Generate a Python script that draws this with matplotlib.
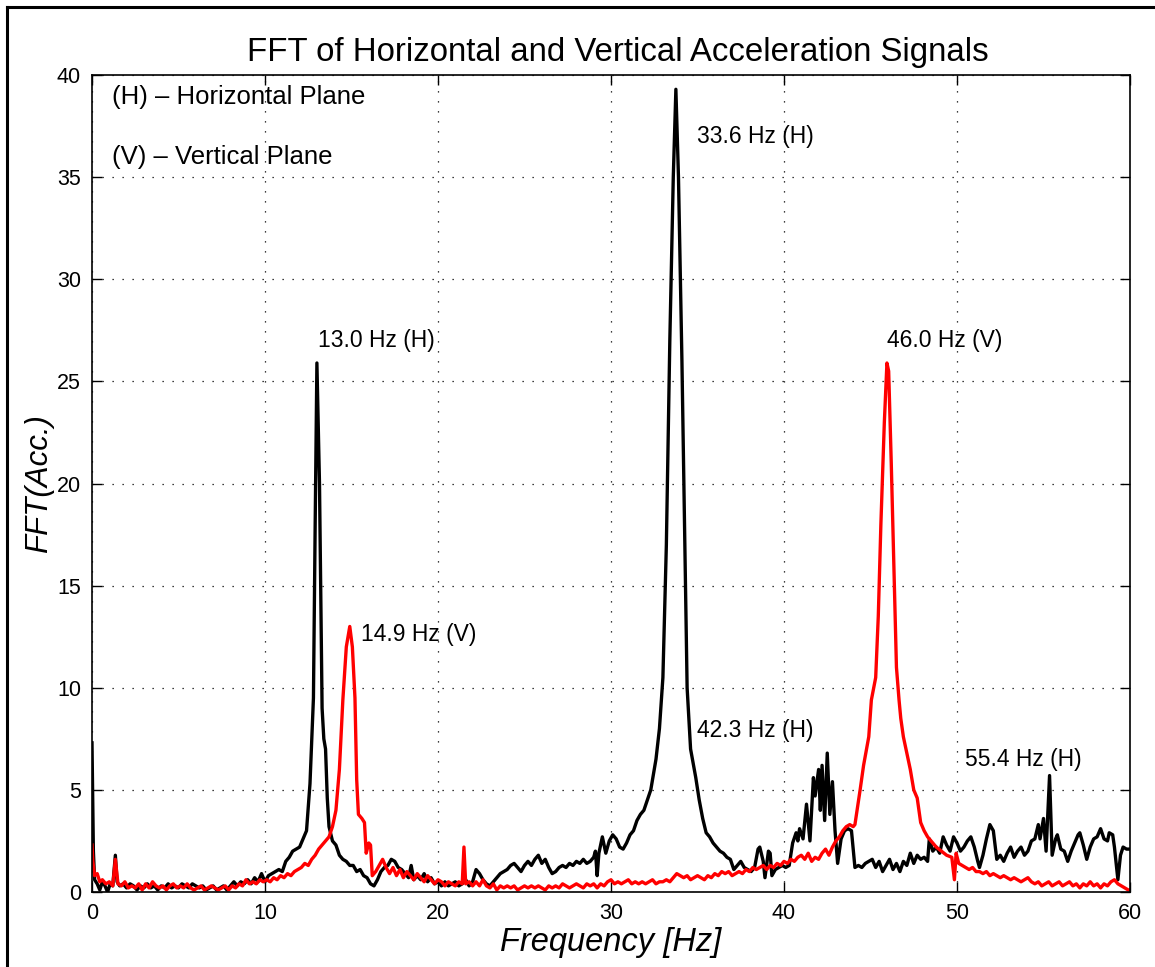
import matplotlib
matplotlib.use('Agg')
import matplotlib.pyplot as plt
from matplotlib.lines import Line2D

plt.rcParams['font.family'] = ['Liberation Sans', 'DejaVu Sans']

# horizontal plane spectrum (black)
h_freq = [0.0, 0.08, 0.15, 0.3, 0.45, 0.6, 0.75, 0.9, 1.05, 1.2, 1.35, 1.45, 1.6, 1.8,
          2.0, 2.2, 2.4, 2.6, 2.8, 3.0, 3.2, 3.4, 3.6, 3.8, 4.0, 4.2, 4.4, 4.6, 4.8,
          5.0, 5.2, 5.4, 5.6, 5.8, 6.0, 6.2, 6.4, 6.6, 6.8, 7.0, 7.2, 7.4, 7.6, 7.8,
          8.0, 8.2, 8.4, 8.6, 8.8, 9.0, 9.2, 9.4, 9.6, 9.8, 10.0, 10.2, 10.4, 10.6,
          10.8, 11.0, 11.2, 11.4, 11.6, 11.8, 12.0, 12.2, 12.4, 12.6, 12.8, 12.9,
          13.0, 13.15, 13.3, 13.4, 13.5, 13.6, 13.7, 13.9, 14.1, 14.3, 14.5, 14.7,
          14.9, 15.1, 15.3, 15.5, 15.7, 15.9, 16.1, 16.3, 16.5, 16.7, 16.9, 17.1,
          17.3, 17.5, 17.7, 17.9, 18.1, 18.3, 18.45, 18.6, 18.8, 19.0, 19.2, 19.4,
          19.6, 19.8, 20.0, 20.2, 20.4, 20.6, 20.8, 21.0, 21.2, 21.4, 21.6, 21.8,
          22.0, 22.2, 22.4, 22.6, 22.8, 23.0, 23.2, 23.4, 23.6, 23.8, 24.0, 24.2,
          24.4, 24.6, 24.8, 25.0, 25.2, 25.4, 25.6, 25.8, 26.0, 26.2, 26.4, 26.6,
          26.8, 27.0, 27.2, 27.4, 27.6, 27.8, 28.0, 28.2, 28.4, 28.6, 28.8, 29.0,
          29.1, 29.2, 29.3, 29.5, 29.7, 29.9, 30.1, 30.3, 30.5, 30.7, 30.9, 31.1,
          31.3, 31.5, 31.7, 31.9, 32.1, 32.3, 32.6, 32.8, 33.0, 33.2, 33.4, 33.6,
          33.75, 33.9, 34.1, 34.25, 34.4, 34.6, 34.9, 35.1, 35.3, 35.5, 35.7, 35.9,
          36.1, 36.3, 36.5, 36.7, 36.9, 37.1, 37.3, 37.5, 37.7, 37.9, 38.1, 38.3,
          38.5, 38.6, 38.8, 38.9, 39.1, 39.2, 39.3, 39.5, 39.7, 39.9, 40.1, 40.3,
          40.5, 40.7, 40.8, 40.9, 41.1, 41.3, 41.5, 41.7, 41.8, 42.0, 42.1, 42.2,
          42.35, 42.5, 42.65, 42.8, 42.95, 43.1, 43.3, 43.5, 43.7, 43.9, 44.1, 44.3,
          44.5, 44.7, 44.9, 45.1, 45.3, 45.5, 45.7, 45.9, 46.1, 46.3, 46.5, 46.7,
          46.9, 47.1, 47.3, 47.5, 47.7, 47.9, 48.1, 48.3, 48.4, 48.6, 48.8, 49.0,
          49.2, 49.4, 49.6, 49.8, 50.0, 50.2, 50.4, 50.6, 50.8, 51.0, 51.2, 51.3,
          51.5, 51.7, 51.9, 52.1, 52.3, 52.5, 52.7, 52.9, 53.1, 53.3, 53.5, 53.7,
          53.9, 54.1, 54.3, 54.5, 54.7, 54.8, 55.0, 55.15, 55.35, 55.5, 55.7, 55.8,
          56.0, 56.2, 56.4, 56.6, 56.8, 57.0, 57.1, 57.3, 57.5, 57.7, 57.9, 58.1,
          58.3, 58.5, 58.7, 58.8, 59.0, 59.1, 59.3, 59.45, 59.6, 59.8, 60.0]
h_amp = [7.3, 2.0, 0.6, 0.4, 0.1, 0.5, 0.3, 0.0, 0.4, 0.3, 1.8, 0.5, 0.3, 0.4,
         0.2, 0.4, 0.3, 0.1, 0.3, 0.2, 0.4, 0.2, 0.3, 0.1, 0.3, 0.2, 0.4, 0.2, 0.3,
         0.2, 0.4, 0.3, 0.2, 0.4, 0.3, 0.2, 0.3, 0.1, 0.2, 0.3, 0.1, 0.2, 0.3, 0.1,
         0.3, 0.5, 0.3, 0.5, 0.4, 0.6, 0.4, 0.7, 0.5, 0.9, 0.5, 0.8, 0.9, 1.0,
         1.1, 1.0, 1.5, 1.7, 2.0, 2.1, 2.2, 2.6, 3.0, 5.3, 9.5, 18.0,
         25.9, 20.0, 9.0, 7.5, 7.0, 4.6, 3.2, 2.5, 2.3, 1.8, 1.6, 1.5,
         1.3, 1.3, 1.0, 1.1, 0.8, 0.7, 0.4, 0.3, 0.6, 1.0, 1.2, 1.3,
         1.6, 1.5, 1.2, 1.1, 0.9, 0.7, 1.3, 0.6, 0.8, 0.6, 0.9, 0.5,
         0.7, 0.4, 0.5, 0.3, 0.5, 0.3, 0.4, 0.5, 0.3, 0.4, 0.6, 0.3,
         0.5, 1.1, 0.9, 0.6, 0.4, 0.3, 0.5, 0.7, 0.9, 1.0, 1.1, 1.3,
         1.4, 1.2, 1.0, 1.3, 1.5, 1.3, 1.6, 1.8, 1.4, 1.6, 1.2, 0.9,
         1.0, 1.2, 1.3, 1.2, 1.4, 1.3, 1.5, 1.4, 1.6, 1.4, 1.5, 1.7,
         2.0, 0.8, 1.9, 2.7, 1.9, 2.5, 2.8, 2.6, 2.2, 2.1, 2.4, 2.8,
         3.0, 3.5, 3.8, 4.0, 4.5, 5.0, 6.5, 8.0, 10.5, 17.0, 27.0, 35.0,
         39.3, 35.0, 26.0, 18.0, 10.0, 7.0, 5.6, 4.5, 3.6, 2.9, 2.7, 2.4,
         2.2, 2.0, 1.9, 1.7, 1.6, 1.1, 1.3, 1.5, 1.2, 1.1, 1.0, 1.2,
         2.1, 2.2, 1.5, 0.7, 2.0, 1.9, 0.8, 1.1, 1.2, 1.3, 1.2, 1.3,
         2.4, 2.9, 2.5, 3.1, 2.6, 4.3, 2.5, 5.6, 4.7, 6.0, 4.0, 6.2,
         3.5, 6.8, 3.8, 5.4, 3.0, 1.4, 2.6, 3.0, 3.1, 3.0, 1.2, 1.3,
         1.2, 1.4, 1.5, 1.6, 1.2, 1.5, 1.0, 1.3, 1.6, 1.1, 1.4, 1.0,
         1.5, 1.3, 1.9, 1.4, 1.8, 1.6, 1.7, 1.5, 2.6, 2.0, 2.2, 1.9,
         2.7, 2.3, 2.0, 2.7, 2.4, 2.0, 2.2, 2.5, 2.7, 2.2, 1.5, 1.2,
         1.8, 2.6, 3.3, 3.0, 1.6, 1.8, 1.5, 1.9, 2.2, 1.7, 2.0, 2.2,
         1.8, 2.0, 2.5, 2.6, 3.3, 2.6, 3.6, 2.0, 5.7, 1.8, 2.6, 2.8,
         2.1, 2.0, 1.5, 2.0, 2.4, 2.8, 2.9, 2.3, 1.6, 2.2, 2.6, 2.7,
         3.1, 2.6, 2.5, 2.9, 2.8, 2.2, 0.6, 1.8, 2.2, 2.1, 2.1]

# vertical plane spectrum (red)
v_freq = [0.0, 0.05, 0.15, 0.3, 0.45, 0.6, 0.8, 1.0, 1.2, 1.35, 1.5, 1.7, 1.9,
          2.1, 2.3, 2.5, 2.7, 2.9, 3.1, 3.3, 3.5, 3.7, 3.9, 4.1, 4.3, 4.5, 4.7,
          4.9, 5.1, 5.3, 5.5, 5.7, 5.9, 6.1, 6.3, 6.5, 6.7, 6.9, 7.1, 7.3, 7.5,
          7.7, 7.9, 8.1, 8.3, 8.5, 8.7, 8.9, 9.1, 9.3, 9.5, 9.7, 9.9, 10.1, 10.3,
          10.5, 10.7, 10.9, 11.1, 11.3, 11.5, 11.7, 11.9, 12.1, 12.3, 12.5, 12.7,
          12.9, 13.1, 13.3, 13.5, 13.7, 13.9, 14.1, 14.3, 14.5, 14.7, 14.9, 15.05,
          15.2, 15.3, 15.4, 15.6, 15.75, 15.85, 16.0, 16.1, 16.2, 16.4, 16.6, 16.8,
          17.0, 17.2, 17.4, 17.6, 17.8, 18.0, 18.2, 18.4, 18.6, 18.8, 19.0, 19.2,
          19.4, 19.6, 19.8, 20.0, 20.2, 20.4, 20.6, 20.8, 21.0, 21.2, 21.4, 21.5,
          21.6, 21.8, 22.0, 22.2, 22.4, 22.6, 22.8, 23.0, 23.2, 23.4, 23.6, 23.8,
          24.0, 24.2, 24.4, 24.6, 24.8, 25.0, 25.2, 25.4, 25.6, 25.8, 26.0, 26.2,
          26.4, 26.6, 26.8, 27.0, 27.2, 27.4, 27.6, 27.8, 28.0, 28.2, 28.4, 28.6,
          28.8, 29.0, 29.2, 29.4, 29.6, 29.8, 30.0, 30.2, 30.4, 30.6, 30.8, 31.0,
          31.2, 31.4, 31.6, 31.8, 32.0, 32.2, 32.4, 32.6, 32.8, 33.0, 33.2, 33.4,
          33.6, 33.8, 34.0, 34.2, 34.4, 34.6, 34.8, 35.0, 35.2, 35.4, 35.6, 35.8,
          36.0, 36.2, 36.4, 36.6, 36.8, 37.0, 37.2, 37.4, 37.6, 37.8, 38.0, 38.2,
          38.4, 38.6, 38.8, 39.0, 39.2, 39.4, 39.6, 39.8, 40.0, 40.2, 40.4, 40.6,
          40.8, 41.0, 41.2, 41.4, 41.6, 41.8, 42.0, 42.2, 42.4, 42.6, 42.8, 43.0,
          43.2, 43.4, 43.6, 43.8, 44.0, 44.1, 44.4, 44.6, 44.9, 45.05, 45.3, 45.45,
          45.6, 45.8, 45.95, 46.05, 46.2, 46.35, 46.5, 46.65, 46.75, 46.9, 47.1,
          47.3, 47.5, 47.7, 47.9, 48.1, 48.3, 48.6, 48.8, 49.1, 49.4, 49.7, 49.85,
          49.95, 50.1, 50.3, 50.5, 50.7, 50.9, 51.1, 51.3, 51.5, 51.7, 51.9, 52.1,
          52.3, 52.5, 52.7, 52.9, 53.1, 53.3, 53.5, 53.7, 53.9, 54.1, 54.3, 54.5,
          54.7, 54.9, 55.1, 55.3, 55.5, 55.7, 55.9, 56.1, 56.3, 56.5, 56.7, 56.9,
          57.1, 57.3, 57.5, 57.7, 57.9, 58.1, 58.3, 58.5, 58.7, 58.9, 59.1, 59.3,
          59.5, 59.7, 59.9, 60.0]
v_amp = [2.3, 1.5, 0.8, 0.9, 0.5, 0.6, 0.4, 0.5, 0.3, 1.6, 0.4, 0.3, 0.5,
         0.2, 0.3, 0.2, 0.4, 0.1, 0.4, 0.2, 0.5, 0.3, 0.2, 0.3, 0.1, 0.3, 0.4,
         0.2, 0.3, 0.2, 0.4, 0.2, 0.1, 0.2, 0.3, 0.1, 0.2, 0.3, 0.2, 0.1, 0.2,
         0.3, 0.1, 0.3, 0.2, 0.4, 0.3, 0.6, 0.4, 0.5, 0.4, 0.6, 0.5, 0.6, 0.5,
         0.7, 0.6, 0.8, 0.7, 0.9, 0.8, 1.0, 1.1, 1.2, 1.4, 1.3, 1.6,
         1.8, 2.1, 2.3, 2.5, 2.7, 3.2, 4.0, 6.0, 9.4, 12.0, 13.0, 12.0,
         9.5, 5.5, 3.8, 3.6, 3.4, 1.9, 2.4, 2.3, 0.8, 1.0, 1.3, 1.6,
         1.2, 0.9, 1.2, 0.8, 1.1, 0.7, 1.0, 0.8, 0.6, 0.9, 0.7, 0.5,
         0.8, 0.6, 0.4, 0.6, 0.5, 0.3, 0.5, 0.4, 0.3, 0.5, 0.4, 2.2,
         0.4, 0.5, 0.3, 0.5, 0.3, 0.6, 0.3, 0.2, 0.4, 0.1, 0.3, 0.2,
         0.3, 0.2, 0.3, 0.1, 0.2, 0.3, 0.2, 0.3, 0.2, 0.3, 0.2, 0.1,
         0.3, 0.2, 0.3, 0.2, 0.4, 0.3, 0.2, 0.3, 0.4, 0.3, 0.2, 0.4,
         0.3, 0.4, 0.2, 0.4, 0.3, 0.5, 0.6, 0.4, 0.5, 0.4, 0.5, 0.6,
         0.4, 0.5, 0.4, 0.5, 0.4, 0.5, 0.6, 0.4, 0.5, 0.5, 0.6, 0.5,
         0.7, 0.9, 0.8, 0.7, 0.8, 0.6, 0.7, 0.8, 0.7, 0.6, 0.8, 0.7,
         0.9, 0.8, 1.0, 0.9, 1.0, 0.8, 0.9, 1.0, 0.9, 1.1, 1.0, 1.2,
         1.1, 1.2, 1.3, 1.1, 1.3, 1.2, 1.4, 1.3, 1.5, 1.4, 1.6, 1.5,
         1.7, 1.8, 1.6, 1.9, 1.5, 1.7, 1.6, 1.9, 2.1, 1.8, 2.2, 2.5,
         2.7, 3.0, 3.2, 3.3, 3.2, 3.3, 5.0, 6.2, 7.6, 9.4, 10.5, 13.5,
         18.0, 23.0, 25.9, 25.5, 21.0, 16.0, 11.0, 9.4, 8.5, 7.6, 6.8,
         6.0, 5.0, 4.6, 3.4, 3.0, 2.7, 2.4, 2.2, 2.0, 1.8, 1.7, 0.6,
         1.9, 1.4, 1.3, 1.2, 1.1, 1.2, 1.0, 1.0, 0.9, 1.0, 0.8, 0.9,
         0.8, 0.7, 0.8, 0.7, 0.6, 0.7, 0.6, 0.5, 0.6, 0.7, 0.5, 0.4,
         0.5, 0.3, 0.4, 0.5, 0.3, 0.4, 0.5, 0.3, 0.4, 0.5, 0.3, 0.4,
         0.2, 0.4, 0.3, 0.5, 0.3, 0.4, 0.2, 0.4, 0.3, 0.5, 0.6, 0.4,
         0.3, 0.2, 0.1, 0.1]

# peak labels: (text, x, y)
peak_labels = [('13.0 Hz (H)', 13.05, 27.0), ('14.9 Hz (V)', 15.55, 12.6),
               ('33.6 Hz (H)', 34.95, 37.0), ('46.0 Hz (V)', 45.95, 27.0),
               ('42.3 Hz (H)', 34.95, 7.9), ('55.4 Hz (H)', 50.45, 6.5)]

fig = plt.figure(figsize=(11.55, 9.67), dpi=100)
ax = fig.add_axes([92 / 1155, 1 - 892 / 967, 1038 / 1155, 817 / 967])

ax.plot(h_freq, h_amp, color='black', lw=2.4)
ax.plot(v_freq, v_amp, color='red', lw=2.4)

ax.set_xlim(0, 60)
ax.set_ylim(0, 40)
ax.set_xticks(range(0, 61, 10))
ax.set_yticks(range(0, 41, 5))
ax.tick_params(direction='in', top=True, right=True, length=7, width=1.0,
               labelsize=15.5, pad=8)
ax.grid(True, linestyle=(0, (1, 7)), color='black', lw=0.9)
for s in ax.spines.values():
    s.set_linewidth(1.2)

ax.set_title('FFT of Horizontal and Vertical Acceleration Signals', fontsize=23.8,
             pad=10, x=0.507)
ax.set_xlabel('Frequency [Hz]', fontsize=23.5, style='italic', labelpad=2)
ax.set_ylabel('FFT(Acc.)', fontsize=22.5, style='italic', labelpad=2)

for txt, x, y in peak_labels:
    ax.text(x, y, txt, fontsize=16.5, va='center', ha='left')

ax.text(1.15, 38.9, '(H) – Horizontal Plane', fontsize=18.5, va='center')
ax.text(1.15, 36.0, '(V) – Vertical Plane', fontsize=18.5, va='center')

# figure frame (left and top edges visible in the original)
fig.add_artist(Line2D([7 / 1155, 7 / 1155], [0, 1 - 7 / 967], color='black', lw=2.2))
fig.add_artist(Line2D([7 / 1155, 1], [1 - 7 / 967, 1 - 7 / 967], color='black', lw=2.2))

fig.savefig('out.png', dpi=100)
